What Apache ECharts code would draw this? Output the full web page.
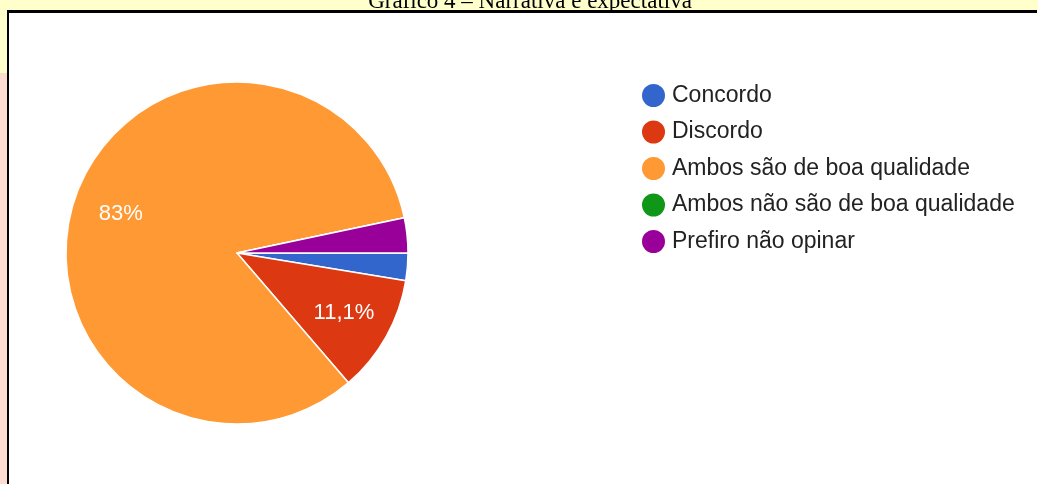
<!DOCTYPE html>
<html>
<head>
<meta charset="utf-8">
<script src="https://cdn.jsdelivr.net/npm/echarts@6/dist/echarts.min.js"></script>
<style>
  html, body { margin: 0; padding: 0; background: #ffffff; }
  #chart { width: 1038px; height: 484px; }
</style>
</head>
<body>
<div id="chart"></div>
<script>
// Survey answers and their share of responses (%)
const categories = [
  'Concordo',
  'Discordo',
  'Ambos são de boa qualidade',
  'Ambos não são de boa qualidade',
  'Prefiro não opinar'
];
const shares = [2.6, 11.1, 83.0, 0, 3.3];
const sliceColors = ['#3366CC', '#DC3912', '#FF9933', '#109618', '#990099'];
const titleText = 'Gráfico 4 – Narrativa e expectativa';

const pieCenter = [237, 253];
const pieRadius = 171;

const pieData = categories.map((name, i) => ({ name: name, value: shares[i] }));

// Percent text with a comma decimal separator, e.g. "11,1%" or "83%"
function pct(v) {
  return (Math.round(v * 10) / 10).toString().replace('.', ',') + '%';
}

const chart = echarts.init(document.getElementById('chart'), null, { renderer: 'canvas' });

chart.setOption({
  backgroundColor: '#ffffff',
  animation: false,
  color: sliceColors,
  graphic: [
    // page strips around the framed chart
    { type: 'rect', shape: { x: 0, y: 0, width: 1038, height: 11 }, style: { fill: '#FFFFCC' }, z: 0 },
    { type: 'rect', shape: { x: 0, y: 0, width: 7, height: 73 }, style: { fill: '#FFFFCC' }, z: 0 },
    { type: 'rect', shape: { x: 0, y: 73, width: 7, height: 411 }, style: { fill: '#FCDDD0' }, z: 0 },
    // caption, partly hidden above the frame
    {
      type: 'text', x: 530, y: 13, z: 1,
      style: {
        text: titleText, fill: '#000000', align: 'center', verticalAlign: 'bottom',
        font: '23px "Liberation Serif", "Times New Roman", serif'
      }
    },
    // frame lines
    { type: 'rect', shape: { x: 7, y: 10, width: 1030, height: 3 }, style: { fill: '#000000' }, z: 2 },
    { type: 'rect', shape: { x: 7, y: 10, width: 2, height: 474 }, style: { fill: '#000000' }, z: 2 }
  ],
  legend: {
    orient: 'vertical',
    left: 640,
    top: 82,
    padding: 0,
    icon: 'circle',
    itemWidth: 25,
    itemHeight: 25,
    itemGap: 9.5,
    data: categories,
    textStyle: {
      color: '#222222',
      fontSize: 23,
      lineHeight: 23,
      fontFamily: '"Liberation Sans", Arial, Helvetica, sans-serif',
      padding: [0, 0, 0, 1]
    }
  },
  series: [
    {
      name: 'Respostas',
      type: 'pie',
      center: pieCenter,
      radius: [0, pieRadius],
      startAngle: 0,
      clockwise: true,
      avoidLabelOverlap: false,
      label: { show: false },
      labelLine: { show: false },
      itemStyle: { borderColor: '#ffffff', borderWidth: 1.5 },
      emphasis: { disabled: true },
      data: pieData
    },
    {
      // transparent ring that only carries the percentage labels
      name: 'Rótulos',
      type: 'pie',
      center: pieCenter,
      radius: [pieRadius * 0.40, pieRadius],
      startAngle: 0,
      clockwise: true,
      silent: true,
      avoidLabelOverlap: false,
      itemStyle: { color: 'rgba(0,0,0,0)', borderWidth: 0 },
      emphasis: { disabled: true },
      labelLine: { show: false },
      label: {
        show: true,
        position: 'inside',
        color: '#ffffff',
        fontSize: 22,
        fontFamily: '"Liberation Sans", Arial, Helvetica, sans-serif',
        formatter: p => (p.value >= 5 ? pct(p.value) : '')
      },
      data: pieData
    }
  ]
});
</script>
</body>
</html>
